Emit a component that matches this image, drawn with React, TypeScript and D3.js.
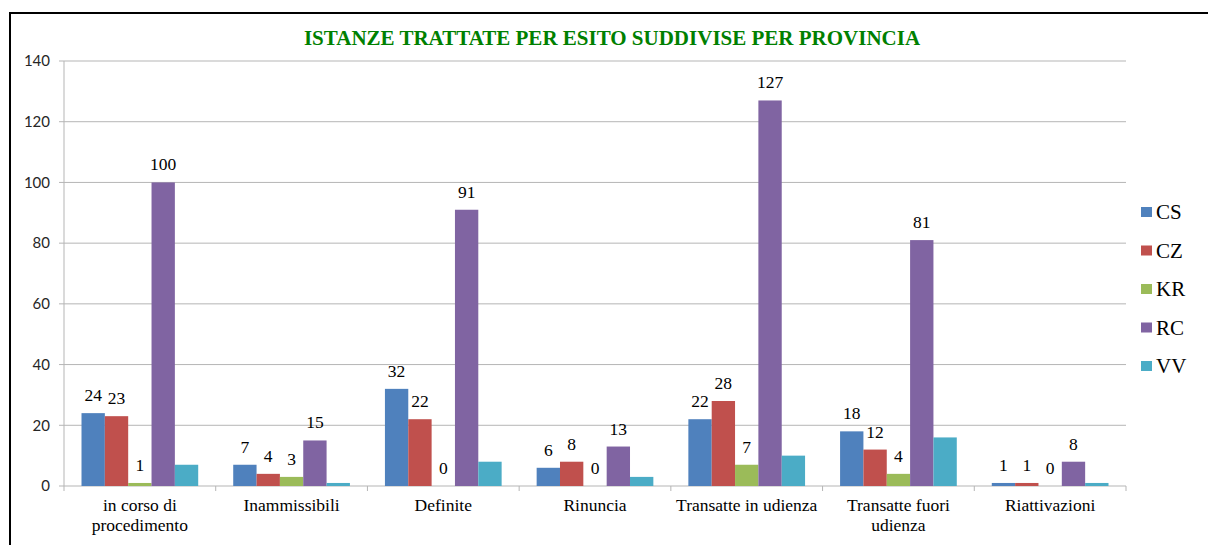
import * as d3 from 'd3';
import React from 'react';

// dati
const categories = [
  ['in corso di', 'procedimento'],
  ['Inammissibili'],
  ['Definite'],
  ['Rinuncia'],
  ['Transatte in udienza'],
  ['Transatte fuori', 'udienza'],
  ['Riattivazioni'],
];
const series = ['CS', 'CZ', 'KR', 'RC', 'VV'];
const colors = ['#4F81BD', '#C0504D', '#9BBB59', '#8064A2', '#4BACC6'];
const valCS = [24, 7, 32, 6, 22, 18, 1];
const valCZ = [23, 4, 22, 8, 28, 12, 1];
const valKR = [1, 3, 0, 0, 7, 4, 0];
const valRC = [100, 15, 91, 13, 127, 81, 8];
const valVV = [7, 1, 8, 3, 10, 16, 1];
const values = [valCS, valCZ, valKR, valRC, valVV];
const labelled = [true, true, true, true, false];
const yTicks = [0, 20, 40, 60, 80, 100, 120, 140];

const serif = '"Liberation Serif", "Times New Roman", serif';
const sans = 'Lato, "Open Sans", sans-serif';

export default function App() {
  const width = 1208;
  const height = 545;
  const margin = { top: 61, right: 82, bottom: 59, left: 64 };

  const keys = categories.map((c) => c.join(' '));

  const x = d3.scaleBand()
    .domain(keys)
    .range([margin.left, width - margin.right])
    .paddingInner(0)
    .paddingOuter(0);

  const xs = d3.scaleBand()
    .domain(series)
    .range([0, x.bandwidth()])
    .paddingInner(0)
    .paddingOuter(0.75);

  const y = d3.scaleLinear()
    .domain([0, 140])
    .range([height - margin.bottom, margin.top]);

  const y0 = y(0);
  const gridColor = '#b5b5b5';

  return (
    <svg width={width} height={height}
      style={{ position: 'absolute', left: 0, top: 0, background: '#fff' }}>
      <rect x={10} y={13} width={1240} height={600} fill="none" stroke="#000" strokeWidth={2} />

      <text x={612} y={45} textAnchor="middle" fontFamily={serif} fontWeight="bold"
        fontSize={21} fill="#008000">
        ISTANZE TRATTATE PER ESITO SUDDIVISE PER PROVINCIA
      </text>

      {/* griglia e asse y */}
      {yTicks.map((t) => (
        <g key={t}>
          <line x1={margin.left - 5} x2={width - margin.right} y1={y(t)} y2={y(t)}
            stroke={gridColor} strokeWidth={1} />
          <text x={50} y={y(t)} dy="0.35em" textAnchor="end" fontFamily={sans}
            fontSize={15} fill="#262626">{t}</text>
        </g>
      ))}
      <line x1={margin.left} x2={margin.left} y1={y(140)} y2={y0} stroke={gridColor} />

      {/* tacche asse x */}
      {keys.concat(['end']).map((k, i) => {
        const px = i < keys.length ? (x(k) as number) : width - margin.right;
        return <line key={k} x1={px} x2={px} y1={y0} y2={y0 + 5} stroke={gridColor} />;
      })}

      {/* barre */}
      {series.map((s, si) => (
        <g key={s} fill={colors[si]}>
          {keys.map((k, ci) => {
            const v = values[si][ci];
            const bx = (x(k) as number) + (xs(s) as number);
            return (
              <rect key={k} x={bx} y={y(v)} width={xs.bandwidth()}
                height={y0 - y(v)} />
            );
          })}
        </g>
      ))}

      {/* etichette dati */}
      {series.map((s, si) => labelled[si] ? (
        <g key={s}>
          {keys.map((k, ci) => {
            const v = values[si][ci];
            const cx = (x(k) as number) + (xs(s) as number) + xs.bandwidth() / 2;
            return (
              <text key={k} x={cx} y={y(v) - 12} textAnchor="middle"
                fontFamily={serif} fontSize={17.5} fill="#000">{v}</text>
            );
          })}
        </g>
      ) : null)}

      {/* etichette categorie */}
      {categories.map((lines, ci) => (
        <text key={ci} x={(x(keys[ci]) as number) + x.bandwidth() / 2} y={511}
          textAnchor="middle" fontFamily={serif} fontSize={17.5} fill="#000">
          {lines.map((l, li) => (
            <tspan key={li} x={(x(keys[ci]) as number) + x.bandwidth() / 2}
              dy={li === 0 ? 0 : 20}>{l}</tspan>
          ))}
        </text>
      ))}

      {/* legenda */}
      {series.map((s, si) => {
        const ly = 212 + si * 38.5;
        return (
          <g key={s}>
            <rect x={1141} y={ly - 5} width={11} height={10} fill={colors[si]} />
            <text x={1156} y={ly} dy="0.35em" fontFamily={serif} fontSize={21}
              fill="#000">{s}</text>
          </g>
        );
      })}
    </svg>
  );
}
